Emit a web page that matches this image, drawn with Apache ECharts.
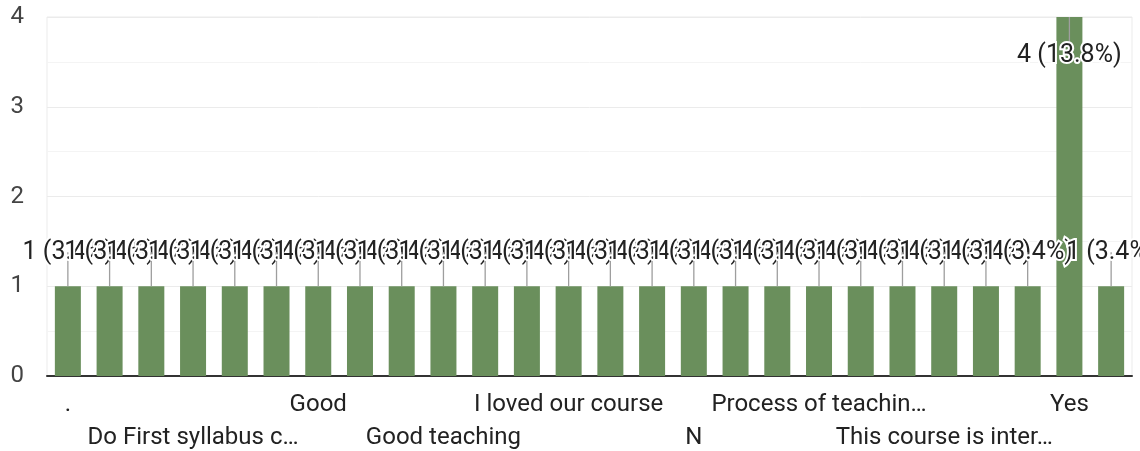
<!DOCTYPE html>
<html>
<head>
<meta charset="utf-8">
<script src="https://cdn.jsdelivr.net/npm/echarts@6/dist/echarts.min.js"></script>
<style>
html, body { margin: 0; padding: 0; background: #fff; }
#chart { width: 1140px; height: 451px; }
</style>
</head>
<body>
<div id="chart"></div>
<script>
const categories = [".", "Alright", "Best", "Do First syllabus c…", "Excellent", "Fine", "Good", "Good course", "Good experience", "Good teaching", "Helpful", "I like it", "I loved our course", "Interesting", "It was good", "N", "Nice", "No", "Process of teachin…", "Satisfied", "Teaching is good", "This course is inter…", "Useful", "Very good", "Yes", "Yes it is"];
const counts = [1, 1, 1, 1, 1, 1, 1, 1, 1, 1, 1, 1, 1, 1, 1, 1, 1, 1, 1, 1, 1, 1, 1, 1, 4, 1];
const yTicks = [0, 1, 2, 3, 4];

const total = counts.reduce((a, b) => a + b, 0);
const labelTexts = counts.map(v => v + ' (' + (v / total * 100).toFixed(1) + '%)');
const yMin = yTicks[0], yMax = yTicks[yTicks.length - 1];
const FONT = 'Roboto';

function xLabelRow(rowOffset, margin, showLine) {
  return {
    type: 'category',
    data: categories,
    position: 'bottom',
    axisTick: { show: false },
    axisLine: { show: showLine, lineStyle: { color: '#333', width: 2 } },
    axisLabel: {
      interval: function (index) { return index % 6 === rowOffset; },
      margin: margin,
      fontFamily: FONT,
      fontSize: 24,
      color: '#222'
    },
    splitLine: { show: false }
  };
}

const chart = echarts.init(document.getElementById('chart'));
chart.setOption({
  animation: false,
  grid: { left: 47, right: 8, top: 17, bottom: 75, containLabel: false, outerBoundsMode: 'none',
          show: true, borderColor: '#ebebeb', borderWidth: 1 },
  xAxis: [xLabelRow(0, 17, true), xLabelRow(3, 50, false)],
  yAxis: {
    type: 'value',
    min: yMin,
    max: yMax,
    interval: 1,
    axisLine: { show: false },
    axisTick: { show: false },
    axisLabel: { margin: 23, fontFamily: FONT, fontSize: 24, color: '#444' },
    splitLine: { lineStyle: { color: '#ebebeb', width: 1 } },
    minorTick: { show: false, splitNumber: 2 },
    minorSplitLine: { show: true, lineStyle: { color: '#f4f4f4', width: 1 } }
  },
  series: [
    {
      type: 'bar',
      data: counts,
      barWidth: 26,
      itemStyle: { color: '#6a8f5c' },
      z: 2
    },
    {
      type: 'custom',
      data: counts.map((v, i) => [i, v]),
      z: 5,
      renderItem: function (params, api) {
        const idx = api.value(0);
        const v = api.value(1);
        const pt = api.coord([idx, v]);
        const atMax = v >= yMax;
        const textY = atMax ? pt[1] + 39 : pt[1] - 34;
        return {
          type: 'group',
          children: [
            {
              type: 'line',
              shape: { x1: pt[0], y1: pt[1], x2: pt[0], y2: textY },
              style: { stroke: '#9e9e9e', lineWidth: 1.3 }
            },
            {
              type: 'text',
              x: pt[0],
              y: textY,
              style: {
                text: labelTexts[idx],
                fill: '#222',
                font: '25px ' + FONT,
                align: 'center',
                verticalAlign: 'middle',
                stroke: '#fff',
                lineWidth: 4
              }
            }
          ]
        };
      }
    }
  ]
});
</script>
</body>
</html>
